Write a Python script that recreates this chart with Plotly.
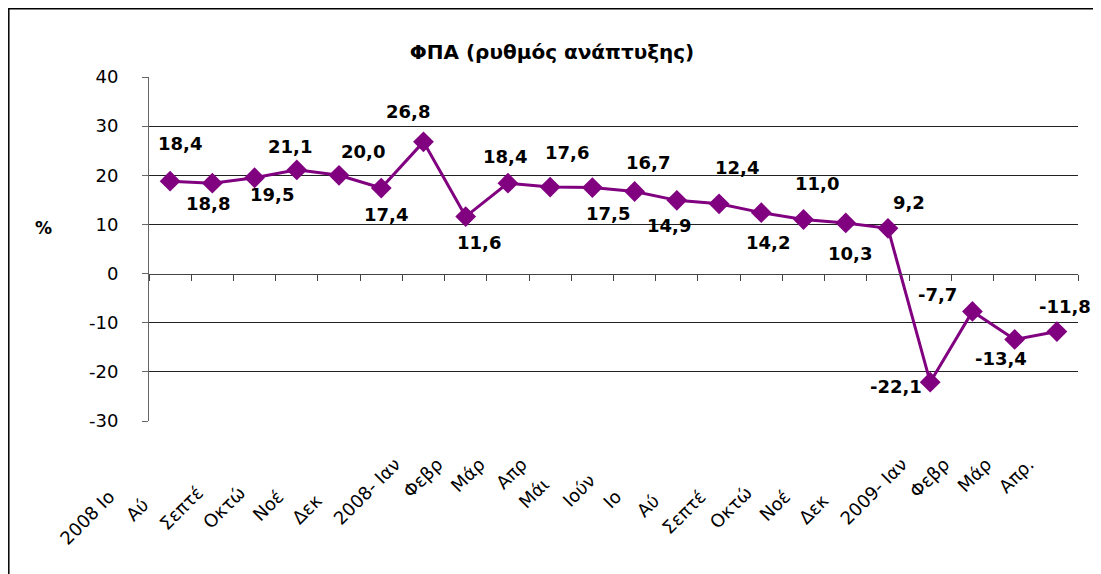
import plotly.graph_objects as go

# ---- data ----
categories = ["2008 Ιο", "Αύ", "Σεπτέ", "Οκτώ", "Νοέ", "Δεκ", "2008- Ιαν", "Φεβρ", "Μάρ", "Απρ",
              "Μάι", "Ιούν", "Ιο", "Αύ", "Σεπτέ", "Οκτώ", "Νοέ", "Δεκ", "2009- Ιαν", "Φεβρ", "Μάρ", "Απρ."]
values = [18.8, 18.4, 19.5, 21.1, 20.0, 17.4, 26.8, 11.6, 18.4, 17.6, 17.5, 16.7, 14.9, 14.2, 12.4,
          11.0, 10.3, 9.2, -22.1, -7.7, -13.4, -11.8]
value_labels = ["18,4", "18,8", "19,5", "21,1", "20,0", "17,4", "26,8", "11,6", "18,4", "17,6", "17,5",
                "16,7", "14,9", "12,4", "14,2", "11,0", "10,3", "9,2", "-22,1", "-7,7", "-13,4", "-11,8"]
y_ticks = [-30, -20, -10, 0, 10, 20, 30, 40]
title = "ΦΠΑ (ρυθμός ανάπτυξης)"
y_title = "%"

# ---- styling / positioning ----
label_offsets = [(10, -38), (-4, 20), (17, 17), (-7, -23), (24, -24), (5, 26), (-15, -30), (13, 26),
                 (-3, -27), (17, -35), (16, 26), (13, -29), (-8, 25), (18, -36), (7, 30), (13, -36),
                 (4, 31), (21, -26), (-34, 4), (-35, -17), (-14, 19), (8, -25)]
# how far each (truncated) tick label is pushed along its diagonal, in NBSP units
label_pad = [8, 10, 7, 7, 8, 9, 0, 0, 0, 0, 5, 4, 8, 9, 8, 7, 8, 9, 0, 0, 0, 0]
base_pad = 7

OFF = 8                       # page body margin
W, H = 1101 - OFF, 574 - OFF
ML, MT = 149 - OFF, 77 - OFF
PW, PH = 929, 344
MR, MB = W - ML - PW, H - MT - PH


def px(xp):   # page x -> paper coordinate
    return (xp - OFF - ML) / PW


def py(yp):   # page y -> paper coordinate
    return (MT + PH - (yp - OFF)) / PH


idx = list(range(len(categories)))
ticktext = [c + "\u00a0" * (p + base_pad) for c, p in zip(categories, label_pad)]
boundaries = [i - 0.5 for i in idx] + [idx[-1] + 0.5]
ymin, ymax = y_ticks[0], y_ticks[-1]
zero_pos = (0 - ymin) / (ymax - ymin)

fig = go.Figure()
fig.add_trace(go.Scatter(
    x=idx, y=values, mode="lines+markers",
    line=dict(color="#800080", width=3),
    marker=dict(symbol="diamond", size=16, color="#800080"),
    hoverinfo="skip", showlegend=False, cliponaxis=False))
# invisible trace to carry the overlay axes (zero line with boundary ticks, gridlines)
fig.add_trace(go.Scatter(x=idx, y=values, mode="markers", xaxis="x2", yaxis="y2",
                         marker=dict(opacity=0), hoverinfo="skip", showlegend=False))

for i, (v, t, (dx, dy)) in enumerate(zip(values, value_labels, label_offsets)):
    fig.add_annotation(x=i, y=v, text=t, showarrow=False, xshift=dx, yshift=-dy,
                       font=dict(family="DejaVu Sans", size=18, color="black", weight="bold"))

fig.add_annotation(xref="paper", yref="paper", x=px(33), y=py(228),
                   text=y_title, showarrow=False,
                   font=dict(family="DejaVu Sans", size=17, color="black", weight="bold"))

# outer frame
fig.add_shape(type="rect", xref="paper", yref="paper",
              x0=px(OFF + 0.8), x1=px(1097),
              y0=py(600), y1=py(OFF + 0.8),
              line=dict(color="black", width=1.5), layer="below")

fig.update_layout(
    width=W, height=H, margin=dict(l=ML, r=MR, t=MT, b=MB, autoexpand=False),
    paper_bgcolor="white", plot_bgcolor="white",
    title=dict(text=title, x=(552 - OFF) / W, xanchor="center", y=1 - (52 - OFF) / H,
               yanchor="middle",
               font=dict(family="DejaVu Sans", size=20, color="black", weight="bold")),
    xaxis=dict(range=[boundaries[0], boundaries[-1]], tickmode="array", tickvals=idx, ticktext=ticktext,
               tickangle=-45, ticks="", showgrid=False, zeroline=False, showline=False,
               tickfont=dict(family="DejaVu Sans", size=18, color="black")),
    xaxis2=dict(overlaying="x", matches="x", anchor="free", position=zero_pos, side="bottom",
                tickmode="array", tickvals=boundaries, ticks="outside", ticklen=6, tickcolor="#444",
                showticklabels=False, showline=True, linecolor="#444", linewidth=1,
                showgrid=False, zeroline=False),
    yaxis=dict(range=[ymin, ymax], tickmode="array", tickvals=y_ticks,
               ticktext=[str(t) for t in y_ticks], ticks="outside", ticklen=6,
               tickcolor="#666", showline=True, linecolor="#666", linewidth=1, showgrid=False,
               zeroline=False, ticklabelstandoff=20,
               tickfont=dict(family="DejaVu Sans", size=18, color="black"),
               minor=dict(tickmode="array", tickvals=[ymax], showgrid=True, gridcolor="#dcdcdc",
                          gridwidth=1, ticks="")),
    yaxis2=dict(overlaying="y", matches="y", anchor="x", side="left", tickmode="array",
                tickvals=[t for t in y_ticks if t not in (0, ymin, ymax)], showgrid=True,
                gridcolor="#222", gridwidth=1, showticklabels=False, ticks="", zeroline=False,
                showline=False),
)

fig.write_html("out.html")
